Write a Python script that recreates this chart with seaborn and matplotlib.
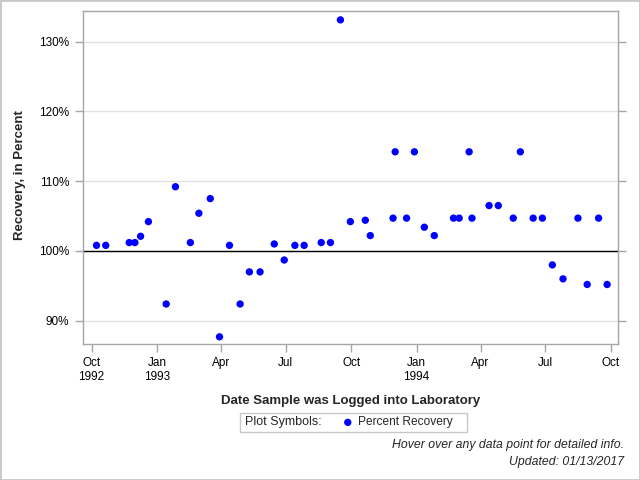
import matplotlib
matplotlib.use('Agg')
import matplotlib.pyplot as plt
import pandas as pd
import seaborn as sns
from matplotlib.patches import Rectangle
from matplotlib.ticker import FuncFormatter

# sample dates and percent recovery
dates = [
    '1992-10-08', '1992-10-21', '1992-11-23', '1992-12-01', '1992-12-09', '1992-12-20',
    '1993-01-14', '1993-01-27', '1993-02-17', '1993-03-01', '1993-03-17', '1993-03-30',
    '1993-04-13', '1993-04-28', '1993-05-11', '1993-05-26', '1993-06-15', '1993-06-29',
    '1993-07-14', '1993-07-27', '1993-08-20', '1993-09-02', '1993-09-16', '1993-09-30',
    '1993-10-21', '1993-10-28', '1993-11-29', '1993-12-02', '1993-12-18', '1993-12-29',
    '1994-01-12', '1994-01-26', '1994-02-22', '1994-03-02', '1994-03-16', '1994-03-20',
    '1994-04-13', '1994-04-26', '1994-05-17', '1994-05-27', '1994-06-14', '1994-06-27',
    '1994-07-11', '1994-07-26', '1994-08-16', '1994-08-29', '1994-09-14', '1994-09-26',
]
recovery = [
    100.8, 100.8, 101.2, 101.2, 102.1, 104.2,
    92.4, 109.2, 101.2, 105.4, 107.5, 87.7,
    100.8, 92.4, 97.0, 97.0, 101.0, 98.7,
    100.8, 100.8, 101.2, 101.2, 133.1, 104.2,
    104.4, 102.2, 104.7, 114.2, 104.7, 114.2,
    103.4, 102.2, 104.7, 104.7, 114.2, 104.7,
    106.5, 106.5, 104.7, 114.2, 104.7, 104.7,
    98.0, 96.0, 104.7, 95.2, 104.7, 95.2,
]

tick_dates = ['1992-10-01', '1993-01-01', '1993-04-01', '1993-07-01', '1993-10-01',
              '1994-01-01', '1994-04-01', '1994-07-01', '1994-10-01']
tick_labels = ['Oct\n1992', 'Jan\n1993', 'Apr', 'Jul', 'Oct',
               'Jan\n1994', 'Apr', 'Jul', 'Oct']
y_ticks = [90, 100, 110, 120, 130]
reference_level = 100

df = pd.DataFrame({'date': pd.to_datetime(dates), 'recovery': recovery})

sns.set_style('white')
plt.rcParams['font.family'] = ['Liberation Sans', 'DejaVu Sans']

axis_gray = '#a6a6a6'

fig = plt.figure(figsize=(6.4, 4.8), dpi=100)
ax = fig.add_axes([0.1302, 0.2823, 0.8359, 0.6942])

for y in y_ticks:
    ax.axhline(y, color='#e2e2e2', linewidth=1, zorder=0)
ax.axhline(reference_level, color='black', linewidth=1, zorder=1)

sns.scatterplot(data=df, x='date', y='recovery', ax=ax, color='#0000ff', s=28,
                edgecolor='none', label='Percent Recovery', legend=False, zorder=3)

ax.set_xlim(pd.Timestamp('1992-09-19 12:00'), pd.Timestamp('1994-10-11 18:00'))
ax.set_ylim(86.6, 134.33)
ax.set_xticks(pd.to_datetime(tick_dates))
ax.set_xticklabels(tick_labels)
ax.set_yticks(y_ticks)
ax.yaxis.set_major_formatter(FuncFormatter(lambda v, p: f'{v:.0f}%'))

for s in ax.spines.values():
    s.set_color(axis_gray)
    s.set_linewidth(1)
ax.tick_params(axis='both', color=axis_gray, length=6, width=1, labelsize=8.5,
               labelcolor='black', direction='out')
ax.tick_params(axis='y', right=True, labelright=False, left=True, pad=4)
ax.tick_params(axis='x', bottom=True, top=False, pad=3)

ax.set_xlabel('Date Sample was Logged into Laboratory', fontsize=9.5,
              fontweight='bold', va='center')
ax.xaxis.set_label_coords(0.5, -0.17)
ax.set_ylabel('Recovery, in Percent', fontsize=9.5, fontweight='bold', va='center')
ax.yaxis.set_label_coords(-0.118, 0.507)

# legend box below the x label
fig.patches.append(Rectangle((240 / 640, 1 - 432 / 480), 227 / 640, 19 / 480,
                             transform=fig.transFigure, fill=False,
                             edgecolor='#c8c8c8', linewidth=1))
fig.text(245 / 640, 1 - 422.5 / 480, 'Plot Symbols:', fontsize=9,
         ha='left', va='center')
handles, labels = ax.get_legend_handles_labels()
fig.legend(handles, labels, loc='center left', bbox_to_anchor=(343 / 640, 1 - 422.5 / 480),
           frameon=False, fontsize=8.6, handlelength=0.8, handletextpad=0.45,
           borderpad=0, borderaxespad=0)

fig.text(624 / 640, 1 - 445 / 480, 'Hover over any data point for detailed info.',
         fontsize=8.8, style='italic', ha='right', va='center')
fig.text(624 / 640, 1 - 462 / 480, 'Updated: 01/13/2017',
         fontsize=8.8, style='italic', ha='right', va='center')

fig.patches.append(Rectangle((0, 0), 1, 1, transform=fig.transFigure, fill=False,
                             edgecolor='#c8c8c8', linewidth=2))

fig.savefig('out.png', dpi=100)
